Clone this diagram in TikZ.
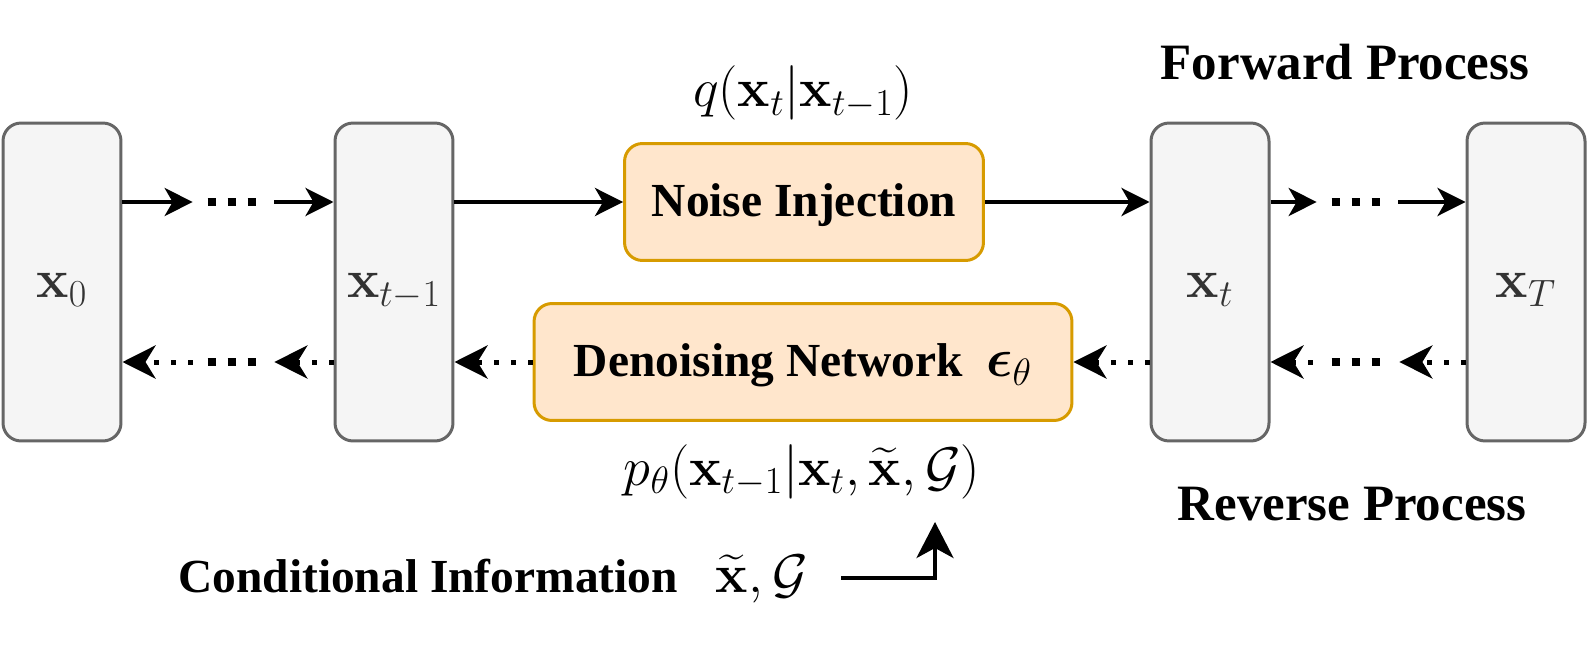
\documentclass[tikz,border=0pt]{standalone}
\usepackage{fix-cm}
\usepackage{amsmath}
\usepackage[no-math]{fontspec}
\setmainfont{Liberation Serif}
\usetikzlibrary{arrows.meta, positioning}

\definecolor{statefill}{HTML}{F5F5F5}
\definecolor{stateline}{HTML}{666666}
\definecolor{statetext}{HTML}{333333}
\definecolor{blockfill}{HTML}{FFE6CC}
\definecolor{blockline}{HTML}{D79B00}

\newcommand{\diagfont}{\fontsize{27}{32}\selectfont}
\newcommand{\mathsize}{\fontsize{31}{36}\selectfont}
\newcommand{\procfont}{\fontsize{29}{34}\selectfont\bfseries}

\tikzset{
  state/.style={draw=stateline, fill=statefill, line width=0.06cm, rounded corners=0.36cm,
    minimum width=2.36cm, minimum height=6.36cm, inner sep=0pt, font=\mathsize,
    text=statetext, text height=0.64cm, text depth=0cm},
  block/.style={draw=blockline, fill=blockfill, line width=0.06cm, rounded corners=0.36cm,
    minimum height=2.34cm, text height=0.6cm, text depth=0cm, font=\diagfont\bfseries},
  fwd/.style={line width=0.08cm, -{Stealth[length=0.56cm, width=0.56cm, inset=0.16cm]}},
  rev/.style={line width=0.1cm, dash pattern=on 0.1cm off 0.24cm,
    -{Stealth[length=0.66cm, width=0.66cm, inset=0.2cm]}},
  condarrow/.style={line width=0.08cm, -{Stealth[length=0.72cm, width=0.74cm, inset=0.2cm]}},
  ellip/.style={inner sep=0pt, minimum width=0.96cm, minimum height=0.16cm},
  dotline/.style={line width=0.16cm, dash pattern=on 0.16cm off 0.24cm},
}

\begin{document}
\begin{tikzpicture}[x=0.02cm, y=-0.02cm, font=\diagfont]
\useasboundingbox (0,0) rectangle (1596,652);

%% states
\node[state] (x0)    at (62,282)   {$\mathbf{x}_0$};
\node[state] (xprev) at (394,282)  {$\mathbf{x}_{t-1}$};
\node[state] (xcur)  at (1210,282) {$\mathbf{x}_t$};
\node[state] (xlast) at (1526,282) {$\mathbf{x}_T$};

%% blocks
\node[block, minimum width=7.18cm]  (noise)   at (804,202) {Noise Injection};
\node[block, minimum width=10.76cm] (denoise) at (803,362)
  {Denoising Network~~{\mathsize$\boldsymbol{\epsilon}_\theta$}};

% labels
\node[anchor=base, font=\mathsize] (qlabel) at (803,107) {$q(\mathbf{x}_t|\mathbf{x}_{t-1})$};
\node[anchor=base, font=\mathsize] (plabel) at (802,485) {$p_\theta(\mathbf{x}_{t-1}|\mathbf{x}_t, \widetilde{\mathbf{x}}, \mathcal{G})$};
\node[anchor=base, font=\procfont] (fwdlabel) at (1345,80)  {Forward Process};
\node[anchor=base, font=\procfont] (revlabel) at (1352,520) {Reverse Process};
\node[anchor=base west, inner sep=0pt, font=\diagfont\bfseries] (cond) at (178,592)
  {Conditional Information\hspace{0.8em}{\mathsize$\widetilde{\mathbf{x}}, \mathcal{G}$}};

% ellipses
\node[ellip] (dfa) at (232,202) {};
\node[ellip] (dfb) at (1356,202) {};
\node[ellip] (dra) at (232,362) {};
\node[ellip] (drb) at (1356,362) {};
\draw[dotline] (dfa.west) -- (dfa.east);
\draw[dotline] (dfb.west) -- (dfb.east);
\draw[dotline] (dra.west) -- (dra.east);
\draw[dotline] (drb.west) -- (drb.east);

% forward process
\draw[fwd, shorten >=0.3cm] (x0.east |- noise) -- (dfa.west);
\draw[fwd, shorten <=0.36cm] (dfa.east) -- (xprev.west |- noise);
\draw[fwd] (xprev.east |- noise) -- (noise.west);
\draw[fwd] (noise.east) -- (xcur.west |- noise);
\draw[fwd, shorten >=0.3cm] (xcur.east |- noise) -- (dfb.west);
\draw[fwd, shorten <=0.36cm] (dfb.east) -- (xlast.west |- noise);

% reverse process
\draw[rev, shorten >=0.38cm] (xlast.west |- denoise) -- (drb.east);
\draw[rev, shorten <=0.38cm] (drb.west) -- (xcur.east |- denoise);
\draw[rev] (xcur.west |- denoise) -- (denoise.east);
\draw[rev] (denoise.west) -- (xprev.east |- denoise);
\draw[rev, shorten >=0.36cm] (xprev.west |- denoise) -- (dra.east);
\draw[rev, shorten <=0.3cm] (dra.west) -- (x0.east |- denoise);

% condition
\coordinate (condtip) at (935,522);
\draw[condarrow] ([xshift=0.66cm, yshift=0.28cm]cond.base east) -| (condtip);

\end{tikzpicture}
\end{document}
